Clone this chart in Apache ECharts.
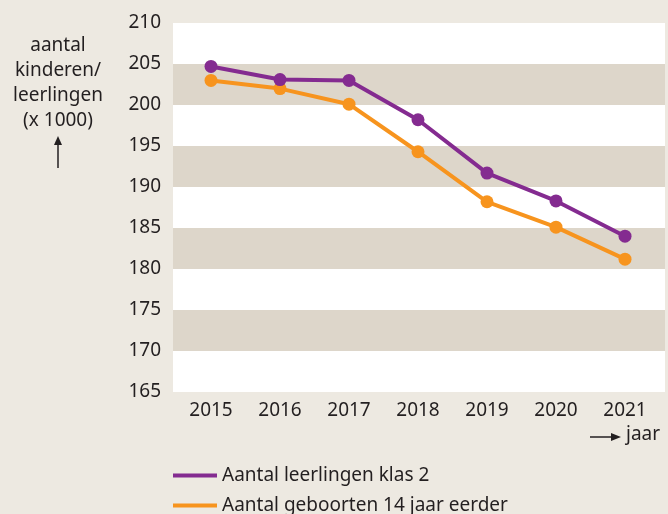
<!DOCTYPE html>
<html>
<head>
<meta charset="utf-8">
<title>Aantal leerlingen klas 2</title>
<script src="https://cdn.jsdelivr.net/npm/echarts@6/dist/echarts.min.js"></script>
<style>
  html, body { margin: 0; padding: 0; background: #ede9e1; }
  #chart { width: 668px; height: 514px; }
</style>
</head>
<body>
<div id="chart"></div>
<script>
// data
const years = ["2015", "2016", "2017", "2018", "2019", "2020", "2021"];
const leerlingenKlas2 = [204.7, 203.1, 203.0, 198.2, 191.7, 188.3, 184.0];
const geboorten14Eerder = [203.0, 202.0, 200.1, 194.3, 188.2, 185.1, 181.2];
const seriesNames = ["Aantal leerlingen klas 2", "Aantal geboorten 14 jaar eerder"];
const yMin = 165, yMax = 210, yStep = 5;

const purple = "#842b90";
const orange = "#f7941e";
const textColor = "#231f20";
const font = "Noto Sans";

const chart = echarts.init(document.getElementById("chart"));

// one legend per row, stacked (legend has 5px padding)
const legendRow = (name, top) => ({
  left: 168,
  top: top,
  itemWidth: 44,
  itemHeight: 4,
  icon: "rect",
  textStyle: { fontSize: 19, color: textColor, fontFamily: font },
  data: [name],
});

const option = {
  backgroundColor: "#ede9e1",
  textStyle: { fontFamily: font, color: textColor },
  grid: [
    // grid 0: only the striped background + y labels
    { left: 173, right: 3, top: 23, bottom: 122 },
    // grid 1: the lines
    { left: 176.5, right: 8.5, top: 23, bottom: 122 },
  ],
  xAxis: [
    { gridIndex: 0, type: "category", data: years, show: false },
    {
      gridIndex: 1,
      type: "category",
      data: years,
      boundaryGap: true,
      axisLine: { show: false },
      axisTick: { show: false },
      axisLabel: { fontSize: 19, color: textColor, margin: 9, fontFamily: font },
    },
  ],
  yAxis: [
    {
      gridIndex: 0,
      type: "value",
      min: yMin,
      max: yMax,
      interval: yStep,
      axisLine: { show: false },
      axisTick: { show: false },
      splitLine: { show: false },
      splitArea: { show: true, areaStyle: { color: ["#ffffff", "#ddd6ca"] } },
      axisLabel: { fontSize: 19, color: textColor, margin: 12, fontFamily: font },
    },
    {
      gridIndex: 1,
      type: "value",
      min: yMin,
      max: yMax,
      interval: yStep,
      show: false,
      splitLine: { show: false },
    },
  ],
  legend: [legendRow(seriesNames[0], 461), legendRow(seriesNames[1], 491)],
  series: [
    {
      name: seriesNames[0],
      type: "line",
      xAxisIndex: 1,
      yAxisIndex: 1,
      data: leerlingenKlas2,
      symbol: "circle",
      symbolSize: 13,
      lineStyle: { width: 4, color: purple },
      itemStyle: { color: purple },
      z: 3,
    },
    {
      name: seriesNames[1],
      type: "line",
      xAxisIndex: 1,
      yAxisIndex: 1,
      data: geboorten14Eerder,
      symbol: "circle",
      symbolSize: 13,
      lineStyle: { width: 4, color: orange },
      itemStyle: { color: orange },
      z: 2,
    },
  ],
  graphic: [
    // y-axis title
    {
      type: "text",
      x: 58,
      y: 33,
      style: {
        text: "aantal\nkinderen/\nleerlingen\n(x 1000)",
        align: "center",
        fontSize: 19,
        lineHeight: 25,
        fontFamily: font,
        fill: textColor,
      },
    },
    // up arrow
    {
      type: "line",
      shape: { x1: 58, y1: 168, x2: 58, y2: 143 },
      style: { stroke: textColor, lineWidth: 1.5 },
    },
    {
      type: "polygon",
      shape: { points: [[58, 136], [54, 145], [62, 145]] },
      style: { fill: textColor },
    },
    // x-axis "→ jaar"
    {
      type: "line",
      shape: { x1: 590, y1: 437, x2: 613, y2: 437 },
      style: { stroke: textColor, lineWidth: 1.5 },
    },
    {
      type: "polygon",
      shape: { points: [[621, 437], [611, 433], [611, 441]] },
      style: { fill: textColor },
    },
    {
      type: "text",
      left: 626,
      top: 425,
      style: { text: "jaar", fontSize: 19, fontFamily: font, fill: textColor },
    },
  ],
};

chart.setOption(option);
</script>
</body>
</html>
